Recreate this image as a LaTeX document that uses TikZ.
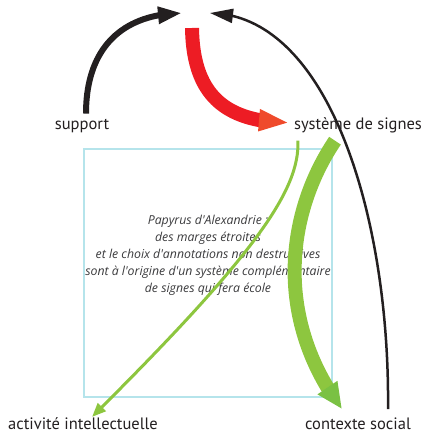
\documentclass[tikz,border=0pt]{standalone}
\usepackage{fontspec}
\setmainfont{PT Sans}
\newfontfamily\notefont{Open Sans}
\usetikzlibrary{arrows.meta, positioning, calc, bending}
\definecolor{myred}{HTML}{ED1C24}
\definecolor{myorange}{HTML}{EF4A2B}
\definecolor{mygreen}{HTML}{8DC63F}
\definecolor{mydarkgreen}{HTML}{7AC143}
\definecolor{myblack}{HTML}{231F20}
\definecolor{mycyan}{HTML}{B5E4EB}
\definecolor{mygrey}{HTML}{3A3A3C}
\begin{document}
\begin{tikzpicture}[x=1pt,y=-1pt,
		label/.style={font=\fontsize{16.5}{19}\selectfont, text=myblack, inner sep=0pt, anchor=base}]
	\useasboundingbox (0,0) rectangle (426,433);
	\draw [line width=2pt, color=mycyan] (84,149) rectangle (332,397);
	\node [label] (support) at (82,129) {support};
	\node [label] (signes) at (358,129) {système de signes};
	\node [label] (activite) at (83,429) {activité intellectuelle};
	\node [label] (social) at (358,429) {contexte social};
	\coordinate (apex) at (196,13);
	\node [font=\notefont\itshape\fontsize{12.3}{17}\selectfont, align=center, text=mygrey] (papyrus) at (208,255) {Papyrus d'Alexandrie :\\ des marges étroites\\ et le choix d'annotations non destructives\\ sont à l'origine d'un système complémentaire\\ de signes qui fera école};
	\draw [line width=6pt, color=myblack, -{Triangle[length=24pt,width=16pt]}] ($(support.north)+(4,-5)$) .. controls (86,50) and (120,14) .. ($(apex)+(-14,0)$);
	\draw [line width=2.5pt, color=myblack, -{Triangle[length=23pt,width=14pt]}] ($(social.north)+(30,-8)$) .. controls (390,220) and (330,15) .. ($(apex)+(14,0)$);
	\draw [line width=14pt, color=myred, -{Triangle[length=30pt,width=20pt,color=myorange]}] ($(apex)+(-4,15)$) .. controls (193,90) and (220,122) .. ($(signes.west)+(-5,-2)$);
	\draw [line width=3pt, color=mygreen, -{Triangle[length=14pt,width=11pt]}] ($(signes.south west)+(4,8)$) .. controls (300,190) and (255,255) .. ($(activite.north)+(9,0)$);
	\draw [line width=14pt, color=mygreen, -{Triangle[length=26pt,width=22pt,color=mydarkgreen]}] ($(signes.south)+(-23,8)$) .. controls (285,215) and (275,320) .. ($(social.north)+(-16,-8)$);
\end{tikzpicture}
\end{document}
